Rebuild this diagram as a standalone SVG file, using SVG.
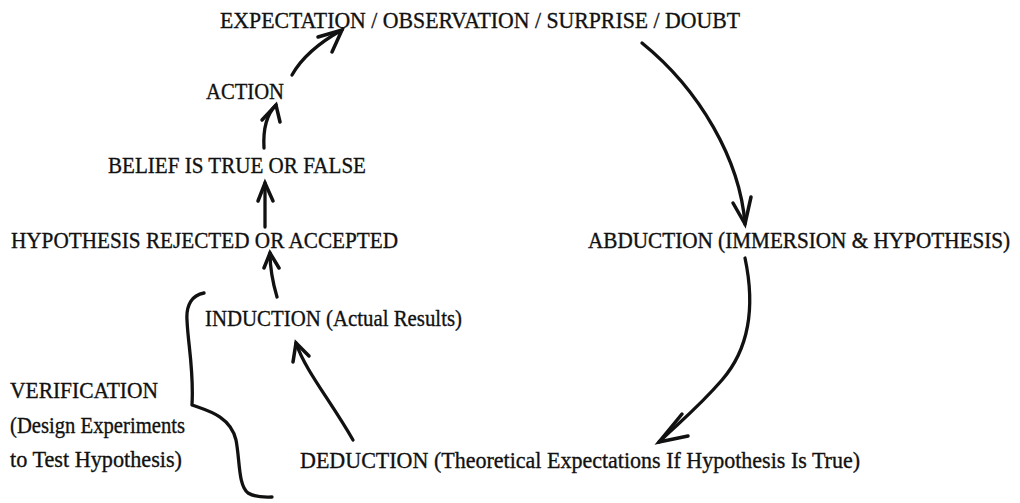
<svg xmlns="http://www.w3.org/2000/svg" width="1020" height="503" viewBox="0 0 1020 503">
  <style>
    .lbl { font-family: "Liberation Serif", "Times New Roman", serif; font-size: 24px; fill: #111; stroke: #111; stroke-width: 0.35; }
    .ink { fill: none; stroke: #111; stroke-width: 3.3; stroke-linecap: round; stroke-linejoin: round; }
    .head { fill: none; stroke: #111; stroke-width: 3.5; stroke-linecap: round; stroke-linejoin: miter; }
  </style>
  <rect width="1020" height="503" fill="#ffffff"/>

  <!-- Nodes -->
  <g id="expectation">
    <text class="lbl" x="220" y="28" textLength="520" lengthAdjust="spacingAndGlyphs">EXPECTATION / OBSERVATION / SURPRISE / DOUBT</text>
  </g>
  <g id="abduction">
    <!-- narrower set, stretched vertically to the same cap height as the other labels -->
    <text class="lbl" transform="translate(588,248) scale(1,1.127)" x="0" y="0" style="font-size:21.2px">ABDUCTION (IMMERSION &amp; HYPOTHESIS)</text>
  </g>
  <g id="deduction">
    <text class="lbl" x="300" y="468" textLength="560" lengthAdjust="spacingAndGlyphs">DEDUCTION (Theoretical Expectations If Hypothesis Is True)</text>
  </g>
  <g id="induction">
    <text class="lbl" x="205" y="326" textLength="257" lengthAdjust="spacingAndGlyphs">INDUCTION (Actual Results)</text>
  </g>
  <g id="hypothesis">
    <text class="lbl" x="11" y="248" textLength="387" lengthAdjust="spacingAndGlyphs">HYPOTHESIS REJECTED OR ACCEPTED</text>
  </g>
  <g id="belief">
    <text class="lbl" x="108" y="173" textLength="258" lengthAdjust="spacingAndGlyphs">BELIEF IS TRUE OR FALSE</text>
  </g>
  <g id="action">
    <text class="lbl" x="206" y="99" textLength="78" lengthAdjust="spacingAndGlyphs">ACTION</text>
  </g>
  <g id="verification">
    <text class="lbl" x="10" y="398" textLength="148" lengthAdjust="spacingAndGlyphs">VERIFICATION</text>
    <text class="lbl" x="10" y="433" textLength="175" lengthAdjust="spacingAndGlyphs">(Design Experiments</text>
    <text class="lbl" x="10" y="467" textLength="172" lengthAdjust="spacingAndGlyphs">to Test Hypothesis)</text>
  </g>

  <!-- Connectors -->
  <g id="connectors">
    <!-- action to expectation -->
    <path class="ink" d="M292,75 Q306,50 342,30"/>
    <path class="head" d="M318,37 L342,30 L332,52"/>

    <!-- expectation to abduction -->
    <path class="ink" d="M642,43 C700,90 740,160 745,224"/>
    <path class="head" d="M733,203 L745,224 L751,197"/>

    <!-- abduction to deduction -->
    <path class="ink" d="M745,258 C756,310 748,350 722,380 S676,425 659,442"/>
    <path class="head" d="M682,414 L659,442 L688,436"/>

    <!-- deduction to induction -->
    <path class="ink" d="M353,440 C330,400 305,370 296,343"/>
    <path class="head" d="M293,362 L296,343 L309,356"/>

    <!-- induction to hypothesis -->
    <path class="ink" d="M277,297 C272,280 270,266 270,253"/>
    <path class="head" d="M264,268 L270,253 L279,268"/>

    <!-- hypothesis to belief -->
    <path class="ink" d="M265,227 L265,183"/>
    <path class="head" d="M258,201 L265,183 L273,201"/>

    <!-- belief to action -->
    <path class="ink" d="M264,148 C263,130 266,115 276,105"/>
    <path class="head" d="M262,120 L276,105 L280,122"/>

    <!-- verification brace -->
    <path class="ink" d="M204,293 C192,295 186,305 187,320 C188,345 194,370 192,405 C205,410 230,415 236,440 C240,460 238,485 248,493 C256,498 265,497 272,497"/>
  </g>
</svg>
